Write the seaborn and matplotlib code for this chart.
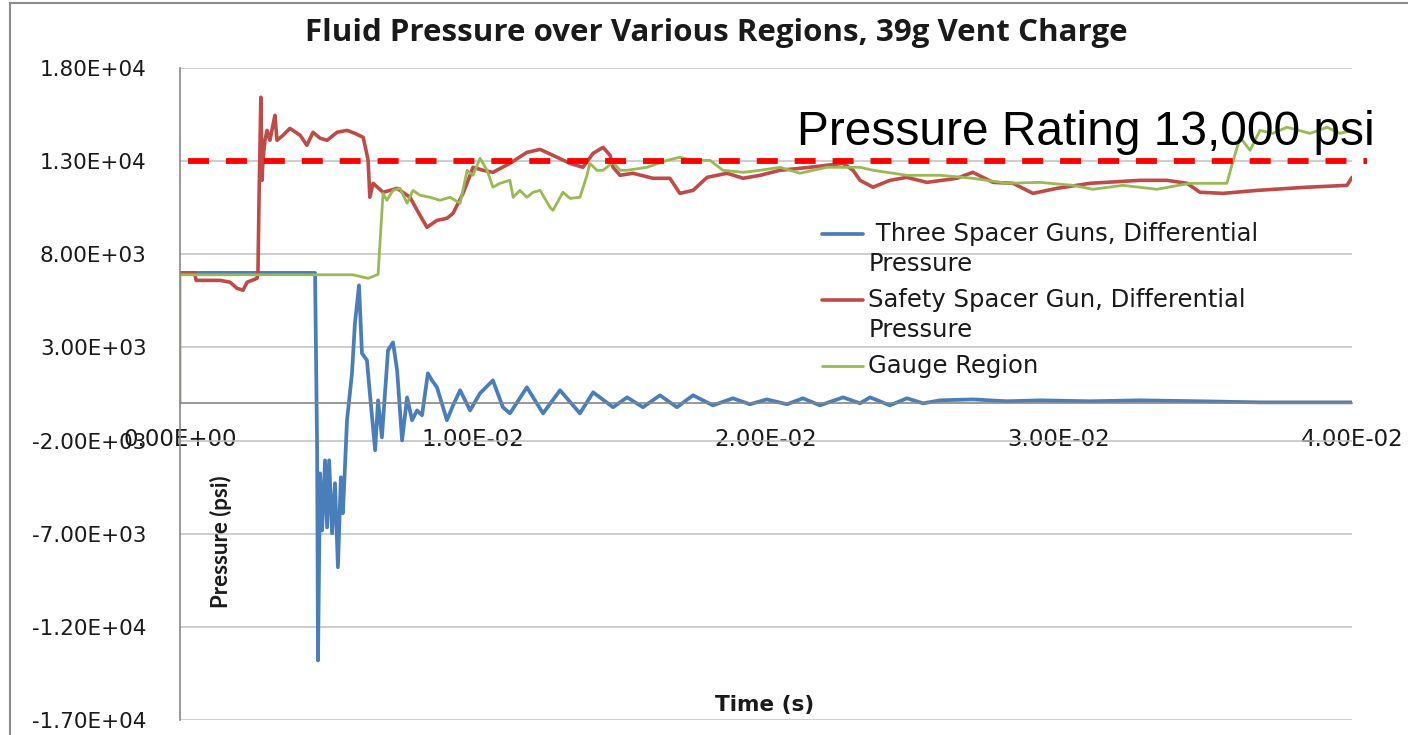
import matplotlib
matplotlib.use("Agg")
import numpy as np
import pandas as pd
import matplotlib.pyplot as plt
from matplotlib.ticker import FuncFormatter, MultipleLocator
from matplotlib.patches import Rectangle
import seaborn as sns

# values: time in ms, pressure in psi
three_t = [0, 4.61, 4.68, 4.71, 4.78, 4.85, 4.95, 5.02, 5.09, 5.19, 5.29, 5.39, 5.49, 5.56,
           5.70, 5.87, 5.97, 6.11, 6.21, 6.38, 6.48, 6.66, 6.76, 6.89, 7.10, 7.27, 7.41, 7.58,
           7.75, 7.92, 8.09, 8.26, 8.46, 8.60, 8.77, 9.11, 9.32, 9.56, 9.90, 10.24, 10.68,
           11.02, 11.26, 11.84, 12.39, 12.97, 13.65, 14.10, 14.78, 15.26, 15.80, 16.38, 16.96,
           17.51, 18.19, 18.87, 19.45, 20.03, 20.72, 21.26, 21.84, 22.63, 23.21, 23.55, 24.23,
           24.81, 25.36, 25.94, 27.06, 28.23, 29.35, 31.06, 32.76, 34.81, 36.86, 40.0]
three_p = [7000, 7000, -2520, -13800, -3760, -6820, -3060, -6660, -3060, -6980, -4290, -8800,
           -3970, -5900, -910, 1610, 4290, 6330, 2680, 2310, 540, -2520, 160, -1830, 2850, 3270,
           1770, -1990, 320, -910, -380, -640, 1610, 1230, 860, -910, -110, 700, -380, 540, 1230,
           -210, -540, 860, -540, 700, -540, 590, -210, 320, -210, 430, -210, 430, -110, 270,
           -50, 210, -50, 270, -110, 320, 0, 320, -110, 270, 0, 160, 210, 110, 160, 110, 160,
           110, 50, 50]

safety_t = [0, 0.50, 0.55, 1.37, 1.71, 1.95, 2.15, 2.29, 2.63, 2.66, 2.70, 2.76, 2.80, 2.83,
            2.90, 2.97, 3.07, 3.17, 3.24, 3.31, 3.52, 3.75, 4.10, 4.33, 4.54, 4.78, 5.02, 5.36,
            5.70, 5.97, 6.25, 6.35, 6.42, 6.48, 6.59, 6.93, 7.17, 7.41, 7.85, 8.19, 8.43, 8.77,
            9.11, 9.32, 9.66, 9.90, 10.0, 10.34, 10.68, 11.26, 11.84, 12.29, 12.73, 13.31, 13.75,
            14.10, 14.44, 14.68, 14.78, 15.02, 15.46, 16.14, 16.72, 17.06, 17.51, 17.99, 18.67,
            19.22, 19.80, 20.48, 21.50, 22.63, 22.97, 23.21, 23.65, 24.23, 24.81, 25.49, 26.52,
            27.06, 27.75, 28.43, 29.11, 29.93, 31.06, 32.76, 33.69, 34.37, 34.81, 35.60, 36.76,
            38.46, 39.83, 40.0]
safety_p = [7000, 7000, 6600, 6600, 6500, 6170, 6070, 6500, 6710, 6980, 11270, 16430, 11970,
            13040, 14120, 14650, 14120, 14920, 15460, 14120, 14390, 14760, 14390, 13850, 14550,
            14230, 14120, 14550, 14650, 14490, 14280, 13580, 13040, 11060, 11810, 11330, 11430,
            11540, 11060, 10090, 9450, 9820, 9930, 10200, 11270, 12240, 12670, 12510, 12400,
            12880, 13470, 13630, 13310, 12880, 12670, 13420, 13740, 13310, 12670, 12240, 12350,
            12080, 12080, 11270, 11430, 12130, 12350, 12080, 12240, 12510, 12670, 12880, 12510,
            11970, 11600, 11970, 12130, 11860, 12080, 12400, 11860, 11810, 11270, 11540, 11810,
            11970, 11970, 11810, 11330, 11270, 11430, 11600, 11700, 12130]

gauge_t = [0, 0, 5.90, 6.42, 6.76, 6.93, 7.06, 7.27, 7.51, 7.75, 7.95, 8.19, 8.53, 8.87, 9.22,
           9.56, 9.80, 10.0, 10.24, 10.48, 10.68, 10.92, 11.26, 11.37, 11.60, 11.84, 12.05,
           12.29, 12.63, 12.73, 13.07, 13.31, 13.65, 13.89, 13.99, 14.23, 14.44, 14.78, 15.02,
           15.26, 15.94, 16.62, 17.06, 17.51, 18.09, 18.53, 19.22, 19.80, 20.48, 21.16, 22.08,
           23.21, 23.65, 24.81, 25.94, 27.06, 28.23, 29.35, 30.48, 31.16, 32.18, 33.34, 34.47,
           35.73, 35.90, 36.18, 36.52, 36.86, 37.30, 37.78, 38.57, 39.15, 39.59, 40.0]
gauge_p = [0, 6900, 6900, 6710, 6925, 11270, 10900, 11430, 11540, 10740, 11430, 11170, 11060,
           10900, 11060, 10740, 12510, 12240, 13150, 12510, 11600, 11810, 11970, 11060, 11430,
           11060, 11330, 11430, 10520, 10360, 11330, 11000, 11060, 12240, 12880, 12510, 12510,
           12940, 12510, 12510, 12670, 13040, 13210, 13040, 13040, 12510, 12400, 12510, 12670,
           12350, 12670, 12670, 12510, 12240, 12240, 12080, 11810, 11860, 11700, 11490, 11700,
           11490, 11810, 11810, 12780, 14280, 13580, 14650, 14490, 14820, 14490, 14820, 14490,
           14650]

series_names = [" Three Spacer Guns, Differential\nPressure",
                "Safety Spacer Gun, Differential\nPressure",
                "Gauge Region"]
series_colors = ["#4A7EBB", "#BE4B48", "#98B954"]

rating = 13000
rating_span_ms = [0.27, 40.5]

W, H = 1408, 735
sns.set_style("white")
fig = plt.figure(figsize=(W / 100, H / 100), dpi=100)
ax = fig.add_axes([180 / W, 1 - 720 / H, (1352 - 180) / W, (720 - 68) / H])

frames = [(three_t, three_p), (safety_t, safety_p), (gauge_t, gauge_p)]
widths = [2.7, 2.6, 2.0]
for (t, p), name, col, lw in zip(frames, series_names, series_colors, widths):
    df = pd.DataFrame({"time": np.array(t) / 1000, "pressure": p})
    sns.lineplot(data=df, x="time", y="pressure", estimator=None, sort=False,
                 color=col, linewidth=lw, label=name, ax=ax)

# pressure rating marker
ax.plot(np.array(rating_span_ms) / 1000, [rating, rating], color="#FF0000", lw=4.2,
        dashes=(3.6, 2.9), clip_on=False, zorder=5)

ax.set_xlim(0, 0.04)
ax.set_ylim(-17000, 18000)
ax.xaxis.set_major_locator(MultipleLocator(0.01))
ax.set_yticks(np.arange(-17000, 18001, 5000))
sci = FuncFormatter(lambda v, _: f"{v:.2E}")
ax.xaxis.set_major_formatter(sci)
ax.yaxis.set_major_formatter(sci)
ax.set_xlabel("")
ax.set_ylabel("")

ax.set_axisbelow(True)
ax.yaxis.grid(True, color="#C0C0C0", lw=1.1)
ax.xaxis.grid(False)
for s in ["top", "right"]:
    ax.spines[s].set_visible(False)
ax.spines["left"].set_color("#868686")
ax.spines["bottom"].set_color("#868686")
ax.spines["left"].set_linewidth(1.2)
ax.spines["bottom"].set_linewidth(1.2)
ax.spines["bottom"].set_position(("data", 0))
ax.tick_params(axis="y", direction="out", length=9, width=1.1, color="#868686", pad=15,
               labelsize=15.5, labelcolor="#1a1a1a")
ax.tick_params(axis="x", direction="out", length=6, width=1.1, color="#868686", pad=12,
               labelsize=16.5, labelcolor="#1a1a1a")

handles, labels = ax.get_legend_handles_labels()
leg = ax.legend(handles, labels, loc="upper left", bbox_to_anchor=(822 / W, 1 - 222 / H),
                bbox_transform=fig.transFigure, frameon=False, fontsize=17.5,
                handlelength=1.7, handletextpad=0.2, borderpad=0, borderaxespad=0,
                labelspacing=0.5)
for txt in leg.get_texts():
    txt.set_color("#1a1a1a")
    txt.set_linespacing(1.3)

# put each handle level with the first line of its label (measured after layout)
texts = leg.get_texts()
for _ in range(2):
    fig.canvas.draw()
    r = fig.canvas.get_renderer()
    single_h = texts[-1].get_window_extent(r).height
    for txt, h in zip(texts, leg.legend_handles):
        bb = txt.get_window_extent(r)
        want = bb.y1 - 0.5 * single_h
        tr = h.get_transform()
        yd = np.array(h.get_ydata(), dtype=float)
        cur = tr.transform((0, yd[0]))[1]
        goal = tr.inverted().transform((0, want))[1]
        base = tr.inverted().transform((0, cur))[1]
        h.set_ydata(yd + (goal - base))

fig.text(716 / W, 1 - 33 / H, "Fluid Pressure over Various Regions, 39g Vent Charge",
         ha="center", va="center", fontsize=22.5, fontweight="bold", family="Open Sans",
         color="#1a1a1a")
fig.text(221 / W, 1 - 542 / H, "Pressure (psi)", rotation=90, ha="center", va="center",
         fontsize=16, fontweight="bold", family="Lato", color="#1a1a1a")
fig.text(765 / W, 1 - 705 / H, "Time (s)", ha="center", va="center", fontsize=15.5,
         fontweight="bold", color="#1a1a1a")
fig.text(797 / W, 1 - 145 / H, "Pressure Rating 13,000 psi", ha="left", va="baseline",
         fontsize=34.5, family="Liberation Sans", color="black")

fig.add_artist(Rectangle((10 / W, -0.2), 1.2, 1.2 - 3 / H, fill=False,
                         edgecolor="#8C8C8C", lw=1.5, transform=fig.transFigure))

fig.savefig("out.png", dpi=100)
